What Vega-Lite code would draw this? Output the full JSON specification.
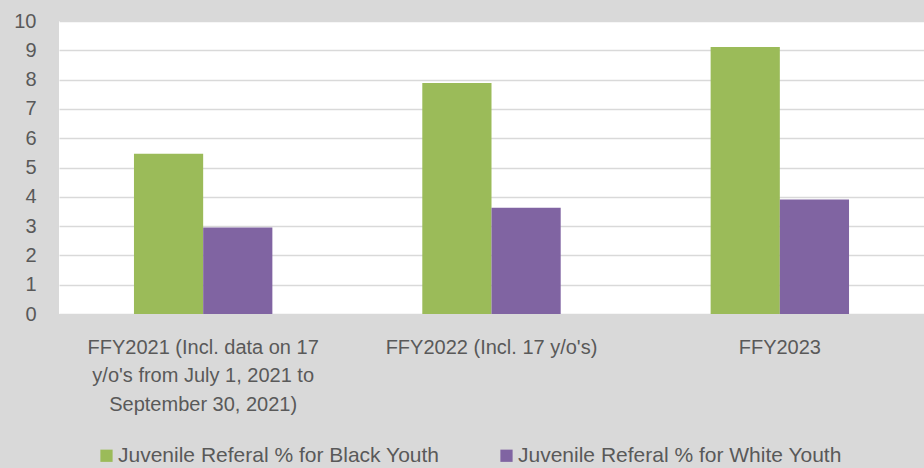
{
  "$schema": "https://vega.github.io/schema/vega-lite/v6.json",
  "width": 865,
  "height": 293,
  "autosize": "none",
  "padding": {"left": 59, "top": 21, "right": 0, "bottom": 154},
  "background": "#d9d9d9",
  "config": {
    "view": {"fill": "#ffffff", "stroke": null},
    "font": "Liberation Sans",
    "axis": {"labelColor": "#595959", "labelFont": "Liberation Sans"},
    "legend": {"labelColor": "#595959", "labelFont": "Liberation Sans"}
  },
  "data": {
    "values": [
      {"year": "FFY2021 (Incl. data on 17|y/o's from July 1, 2021 to|September 30, 2021)", "group": "Juvenile Referal % for Black Youth", "value": 5.47},
      {"year": "FFY2021 (Incl. data on 17|y/o's from July 1, 2021 to|September 30, 2021)", "group": "Juvenile Referal % for White Youth", "value": 2.95},
      {"year": "FFY2022 (Incl. 17 y/o's)", "group": "Juvenile Referal % for Black Youth", "value": 7.88},
      {"year": "FFY2022 (Incl. 17 y/o's)", "group": "Juvenile Referal % for White Youth", "value": 3.63},
      {"year": "FFY2023", "group": "Juvenile Referal % for Black Youth", "value": 9.11},
      {"year": "FFY2023", "group": "Juvenile Referal % for White Youth", "value": 3.91}
    ]
  },
  "mark": {"type": "bar"},
  "encoding": {
    "x": {
      "field": "year",
      "type": "nominal",
      "sort": null,
      "scale": {"paddingInner": 0.52, "paddingOuter": 0.26},
      "axis": {
        "title": null,
        "labelAngle": 0,
        "domain": false,
        "ticks": false,
        "labelFontSize": 20,
        "labelLineHeight": 28.5,
        "labelPadding": 23,
        "labelLimit": 400,
        "labelBaseline": "top",
        "labelExpr": "split(datum.label, '|')"
      }
    },
    "xOffset": {"field": "group", "type": "nominal", "sort": null, "scale": {"paddingInner": 0, "paddingOuter": 0}},
    "y": {
      "field": "value",
      "type": "quantitative",
      "scale": {"domain": [0, 10], "nice": false},
      "axis": {
        "title": null,
        "values": [0, 1, 2, 3, 4, 5, 6, 7, 8, 9, 10],
        "domain": false,
        "ticks": false,
        "labelFontSize": 20,
        "labelPadding": 23,
        "gridColor": "#d9d9d9",
        "gridWidth": 1.5
      }
    },
    "color": {
      "field": "group",
      "type": "nominal",
      "sort": null,
      "scale": {"domain": ["Juvenile Referal % for Black Youth", "Juvenile Referal % for White Youth"], "range": ["#9bbb59", "#8064a2"]},
      "legend": {
        "title": null,
        "orient": "none",
        "legendX": 37,
        "legendY": 424,
        "direction": "horizontal",
        "symbolType": "square",
        "symbolSize": 150,
        "symbolStrokeWidth": 0,
        "labelFontSize": 21,
        "labelOffset": 1,
        "columnPadding": 56,
        "labelLimit": 500
      }
    }
  }
}
